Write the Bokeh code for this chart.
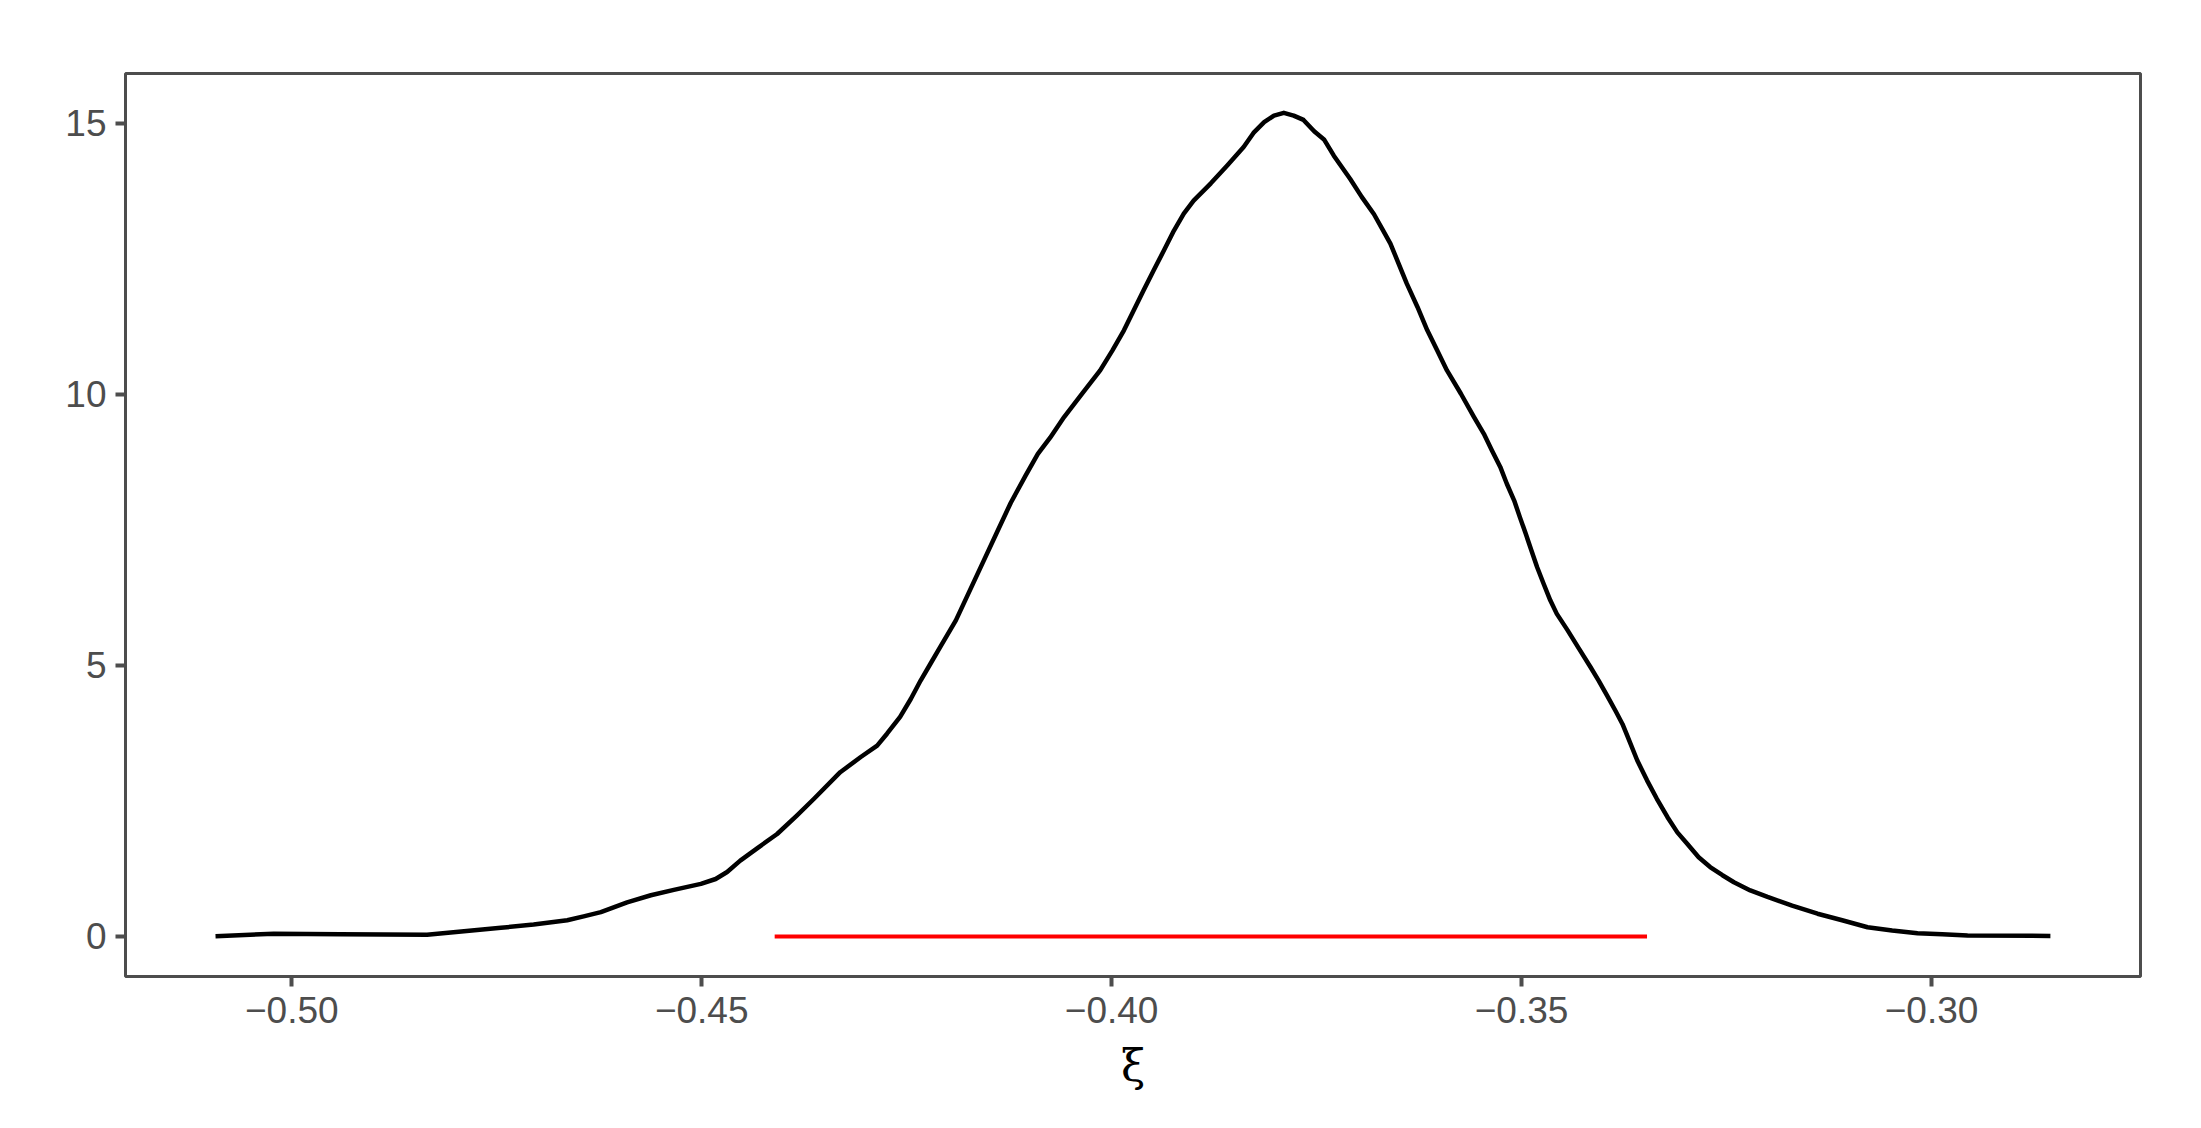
from bokeh.plotting import figure
from bokeh.models import Range1d, FixedTicker, ColumnDataSource
from bokeh.embed import file_html
from bokeh.resources import INLINE

# Density curve of xi
xi = [-0.5093, -0.5022, -0.4941, -0.4835, -0.4745, -0.4705, -0.4664, -0.4644,
      -0.4623, -0.4591, -0.4562, -0.4534, -0.4501, -0.4483, -0.4469, -0.4453,
      -0.4432, -0.4408, -0.4384, -0.4363, -0.4331, -0.4306, -0.4286, -0.4274,
      -0.4258, -0.4245, -0.4233, -0.4221, -0.4209, -0.4190, -0.4157, -0.4140,
      -0.4123, -0.4105, -0.4090, -0.4075, -0.4058, -0.4036, -0.4014, -0.3999,
      -0.3985, -0.3973, -0.3961, -0.3949, -0.3936, -0.3924, -0.3912, -0.3900,
      -0.3879, -0.3859, -0.3839, -0.3827, -0.3814, -0.3802, -0.3790, -0.3778,
      -0.3766, -0.3753, -0.3741, -0.3729, -0.3709, -0.3695, -0.3680, -0.3670,
      -0.3660, -0.3650, -0.3640, -0.3627, -0.3615, -0.3603, -0.3591, -0.3574,
      -0.3558, -0.3546, -0.3536, -0.3526, -0.3518, -0.3509, -0.3502, -0.3495,
      -0.3488, -0.3481, -0.3473, -0.3465, -0.3457, -0.3444, -0.3430, -0.3416,
      -0.3406, -0.3396, -0.3385, -0.3377, -0.3371, -0.3359, -0.3347, -0.3335,
      -0.3322, -0.3310, -0.3298, -0.3284, -0.3270, -0.3255, -0.3241, -0.3221,
      -0.3200, -0.3170, -0.3139, -0.3109, -0.3078, -0.3048, -0.3017, -0.2987,
      -0.2956, -0.2855]
density = [0.005, 0.05, 0.04, 0.03, 0.16, 0.22, 0.30, 0.37,
           0.45, 0.63, 0.76, 0.86, 0.97, 1.06, 1.19, 1.40,
           1.63, 1.89, 2.23, 2.54, 3.03, 3.31, 3.52, 3.74,
           4.05, 4.38, 4.72, 5.03, 5.34, 5.83, 6.90, 7.45,
           8.00, 8.50, 8.90, 9.20, 9.58, 10.01, 10.44, 10.81,
           11.18, 11.55, 11.92, 12.28, 12.66, 13.02, 13.33, 13.57,
           13.89, 14.22, 14.56, 14.82, 15.02, 15.14, 15.19, 15.14,
           15.06, 14.85, 14.70, 14.40, 13.97, 13.64, 13.32, 13.05,
           12.78, 12.41, 12.04, 11.61, 11.18, 10.81, 10.44, 10.01,
           9.58, 9.27, 8.96, 8.66, 8.35, 8.04, 7.73, 7.43,
           7.12, 6.81, 6.50, 6.20, 5.95, 5.65, 5.31, 4.97,
           4.72, 4.45, 4.15, 3.92, 3.70, 3.25, 2.88, 2.54,
           2.20, 1.92, 1.71, 1.46, 1.28, 1.13, 1.00, 0.85,
           0.73, 0.57, 0.42, 0.30, 0.17, 0.11, 0.06, 0.04,
           0.02, 0.01]

# Interval shown as red segment
interval_lo = -0.4411
interval_hi = -0.3347
interval_y = 0.0

x_ticks = [-0.50, -0.45, -0.40, -0.35, -0.30]
x_tick_labels = ["\u22120.50", "\u22120.45", "\u22120.40", "\u22120.35", "\u22120.30"]
y_ticks = [0, 5, 10, 15]
y_tick_labels = ["0", "5", "10", "15"]

GREY = "#4D4D4D"
FONT = "Liberation Sans"

p = figure(width=2185, height=1112, output_backend="svg", toolbar_location=None,
           x_range=Range1d(-0.52028, -0.27451), y_range=Range1d(-0.738, 15.916),
           min_border_left=125, min_border_right=45, min_border_top=73, min_border_bottom=136)

p.background_fill_color = "white"
p.border_fill_color = "white"
p.outline_line_color = GREY
p.outline_line_width = 3
p.xgrid.visible = False
p.ygrid.visible = False

src = ColumnDataSource(dict(x=xi, y=density))
p.line("x", "y", source=src, line_color="black", line_width=4.5, line_join="round")
p.segment(x0=[interval_lo], y0=[interval_y], x1=[interval_hi], y1=[interval_y],
          line_color="#FF0000", line_width=4)

for ax, ticks, labels in ((p.xaxis[0], x_ticks, x_tick_labels), (p.yaxis[0], y_ticks, y_tick_labels)):
    ax.ticker = FixedTicker(ticks=ticks)
    ax.major_label_overrides = {t: l for t, l in zip(ticks, labels)}
    ax.minor_tick_line_color = None
    ax.axis_line_color = None
    ax.major_tick_line_color = GREY
    ax.major_tick_line_width = 4
    ax.major_tick_out = 10
    ax.major_tick_in = 0
    ax.major_label_text_font = FONT
    ax.major_label_text_font_size = "37px"
    ax.major_label_text_color = GREY

p.xaxis[0].major_label_standoff = 10
p.yaxis[0].major_label_standoff = 9
p.xaxis[0].axis_label = "\u03be"
p.xaxis[0].axis_label_text_font = "DejaVu Serif"
p.xaxis[0].axis_label_text_font_style = "normal"
p.xaxis[0].axis_label_text_font_size = "44px"
p.xaxis[0].axis_label_text_color = "black"
p.xaxis[0].axis_label_standoff = 14

open("out.html", "w").write(file_html(p, INLINE))
